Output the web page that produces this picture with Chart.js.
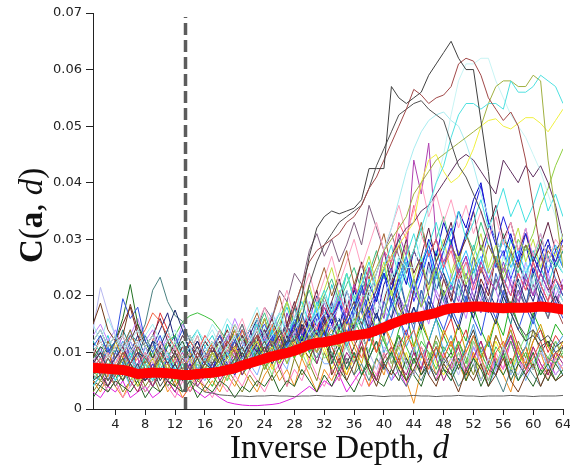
<!DOCTYPE html>
<html>
<head>
<meta charset="utf-8">
<script src="https://cdn.jsdelivr.net/npm/chart.js@4/dist/chart.umd.min.js"></script>
<style>
html,body{margin:0;padding:0;background:#fff;}
canvas{display:block;}
</style>
</head>
<body>
<canvas id="c" width="570" height="466"></canvas>
<script>
// ---- DATA (cost values in units of 0.001) ----
const depths = [1,2,3,4,5,6,7,8,9,10,11,12,13,14,15,16,17,18,19,20,21,22,23,24,25,26,27,28,29,30,31,32,33,34,35,36,37,38,39,40,41,42,43,44,45,46,47,48,49,50,51,52,53,54,55,56,57,58,59,60,61,62,63,64];
const xTickValues = [4,8,12,16,20,24,28,32,36,40,44,48,52,56,60,64];
const xTickLabels = ['4','8','12','16','20','24','28','32','36','40','44','48','52','56','60','64'];
const yTickValues = [0,0.01,0.02,0.03,0.04,0.05,0.06,0.07];
const yTickLabels = ['0','0.01','0.02','0.03','0.04','0.05','0.06','0.07'];
const cutoffDepth = 13.4;
const cutoffTop = 0.0693;

const meanCost = [7.3,7.2,7.1,7.0,6.9,6.6,6.2,6.3,6.4,6.4,6.3,6.2,6.0,6.0,6.2,6.3,
6.4,6.6,6.9,7.2,7.7,8.1,8.5,8.9,9.3,9.6,9.9,10.3,10.8,11.4,11.7,11.8,
12.1,12.4,12.8,13.0,13.2,13.4,13.9,14.4,15.0,15.5,16.0,16.2,16.4,16.7,17.0,17.5,
17.8,17.9,18.0,18.1,18.1,18.0,17.9,17.8,17.9,17.9,17.9,18.0,18.1,18.0,17.8,17.6];

const lineA = [5,6,4,7,5,8,6,5,7,4,6,8,5,7,6,8,
7,9,6,8,10,7,9,11,8,10,12,14,20,27,32,34,
35,34.5,35,35.5,37,42.5,42.5,42.5,57,55,54,55,56,59,61,63,
65,62,60,60,51,42,30,22,17,14,12,13,11,12,10,11];
const lineB = [8,6,9,7,10,8,11,9,7,10,8,6,9,7,10,8,
11,9,12,10,8,11,13,10,12,10,14,18,22,26,28,29,
30,31,33,34,36,39,41,44,47,50,53,56.5,55.5,54,55,55.5,
57,61,62,61.5,59,55,53,51,52.5,50,44,36,28,22,18,15];
const lineC = [6,8,5,7,9,6,8,5,7,9,6,8,5,7,9,6,
8,10,7,9,11,8,10,12,9,11,12,12,16,22,26,29,
31,33,34,35,36,39,43,46,49,52,53,54,54.5,53,52,51,
47,43,41,38,35,31,26,22,18,15,13,14,12,13,11,12];
const lineD = [4,6,8,5,7,9,6,8,5,7,9,6,8,5,7,9,
6,8,10,7,9,11,8,10,12,9,11,13,10,12,14,11,
13,15,12,14,16,13,15,15,18,20,25,28,32,36,40,43,
48,52,54,54,53,54,54,53,58,56,56,57,59,58,57,54];
const lineE = [7,5,8,6,9,7,5,8,6,9,7,5,8,6,9,7,
10,8,6,9,11,8,10,7,9,12,8,11,9,13,10,12,
14,11,15,15,18,22,25,28,30,32,34,38,40,42,44,45,
46,47,48,49,50,54,57,58,58,57,57,59,58,44,35,25];
const lineF = [6,8,5,7,9,6,4,7,9,6,8,5,7,9,6,8,
10,7,9,11,8,10,12,9,11,8,10,12,9,11,13,10,
12,11,13,14,16,19,22,25,27,29,31,33,40,44,45,42,
40,41,43,46,50,51,51.3,50,49.5,50.5,51.5,51.5,50.5,49,51,53];
const lineG = [10,12,9,11,13,10,12,9,11,8,10,12,9,11,8,10,
12,9,11,13,10,12,14,11,13,15,12,14,16,13,15,17,
14,16,19,15,18,21,17,20,23,27,25,25,30,35,40,45,
52,58,61,61,62,62,58,55,52,50,48,45,42,38,34,30];
const lineH = [12,14,11,13,10,12,14,11,13,10,12,14,11,13,10,12,
14,11,13,15,12,14,16,13,15,17,14,16,18,15,17,19,
16,18,21,17,20,20,24,28,32,37,42,46,49,51,52,52.5,
51,50,47,43,38,34,30,27,24,22,25,21,23,20,22,19];
const lineI = [8,10,7,9,11,8,10,7,9,11,8,10,7,9,11,8,
10,12,9,11,13,10,12,14,11,13,15,12,14,16,13,15,
17,14,16,19,15,18,21,25,27,30,32,33,35,36,38,40,
42,44,45,44,42,40,38,44,42,40,43,41,43,40,36,30];
const lineJ = [9,10,9,12,11,13,12,15,21,23.3,19,16.5,15.5,12,10,9,
8,10,7,9,8,10,9,11,8,10,9,12,10,11,9,12,
10,7,9,6,8,5,9,7,10,6,4,7,5,8,6,9,
7,4,6,9,5,8,6,3,7,5,8,6,4,7,5,6];
const lineK = [8,6,9,7,10,8,6,9,11,8,12,13,15.4,16.5,17,16.4,
15.7,14,12,10,13,11,9,12,10,14,11,9,13,10,12,15,
11,14,12,16,13,10,15,12,9,13,11,8,12,10,7,11,
9,12,8,13,10,7,11,9,12,8,10,7,11,9,8,10];
const lineL = [14,21.5,17,13,11,12,9,11,8,10,12,9,11,8,10,7,
9,11,8,10,12,9,11,13,10,12,9,14,11,13,10,15,
12,9,11,8,13,10,7,11,9,12,8,6,10,8,11,7,
9,6,10,8,5,9,7,11,8,6,9,7,10,8,6,8];
const lineM = [9,11,10,12,16,22,15,12,9,11,8,10,12,9,11,8,
10,7,9,11,8,10,12,9,11,13,10,12,9,13,11,14,
8,11,7,10,6,9,12,8,10,7,5,9,6,8,11,7,
5,8,6,9,7,4,8,6,9,5,7,10,6,8,5,7];
const lineN = [11,13,10,12,19.5,16,18,12,10,13,9,11,14,10,12,9,
11,13,10,12,14,11,13,15,12,14,11,16,13,15,12,17,
14,16,13,18,15,12,17,14,19,16,13,18,15,20,17,14,
18,15,20,16,13,19,16,21,17,14,18,15,20,17,19,16];
const lineO = [15,18.7,14,12,13,18.5,14,11,13,10,12,9,11,13,10,8,
10,12,9,11,13,10,12,9,11,14,10,13,11,9,12,14,
6,9,5,8,11,7,4,8,6,9,5,7,10,6,4,8,
6,3,7,5,8,4,6,9,5,3,6,8,4,7,5,6];
const lineP = [10,12,9,11,13,10,12,14,17,15.5,13,11,9,12,10,13,
11,9,12,10,14,11,13,10,15,12,14,11,16,13,10,15,
14,11,16,12,9,13,10,15,11,8,12,14,10,7,11,9,
12,8,10,13,9,6,10,12,8,11,7,9,12,8,10,9];
const lineQ = [8,10,7,9,11,8,10,9,12,11,14,17.5,14,10,12,9,
11,8,10,13,9,12,10,14,11,9,13,10,15,12,14,11,
13,16,12,15,18,14,17,13,16,20,15,18,14,19,16,21,
17,14,19,16,22,18,15,20,17,23,19,16,21,18,20,17];
const lineR = [6,8,5,7,6,9,7,5,8,6,9,7,5,8,6,9,
7,10,8,6,9,11,8,10,13,9,12,15,11,14,17,13,
16,19,15,18,22,17,20,24,19,23,27,21,25,29,24,28,
32,27,31,35,39.5,33,29,34,30,26,31,27,24,29,26,30];
const lineS = [7,5,8,6,9,7,5,8,6,9,7,10,8,6,9,7,
10,8,11,9,7,10,12,9,11,14,10,13,11,15,12,14,
17,13,16,19,15,18,14,17,21,16,19,23,18,21,25,20,
23,27,22,25,29,24,27,23,26,30,28,31,36,39,43,46];
const lineT = [9,7,10,8,11,9,7,10,8,12,9,11,8,10,13,9,
11,14,10,13,16,12,15,18,14,17,21,16,20,24,19,23,
27,22,26,30,25,29,33,28,32,36,31,35,40,34,38,33,
37,32,36,31,35,30,34,29,33,28,32,27,31,26,30,28];
const lineU = [5,7,9,6,8,10,7,9,6,8,10,7,9,11,8,10,
12,9,11,13,10,12,15,11,14,17,13,16,19,15,18,21,
17,20,24,19,22,26,21,25,29,23,27,31,26,29,33,28,
31,35,30,33,37,32,35,39,34,37,33,36,40,35,38,34];
const bg1 = [9,7,11,6,8,12,9,5,7,10,8,6,9,11,7,8,
10,7,12,9,11,14,10,13,9,12,15,11,14,10,16,12,
15,19,13,17,21,16,20,24,18,22,26,19,23,28,21,25,
30,24,27,22,26,31,25,28,23,27,32,26,29,24,28,25];
const bg2 = [4,6,3,5,8,4,6,3,5,7,4,6,3,5,8,6,
4,7,5,9,6,8,11,7,10,8,12,9,13,10,8,12,
9,14,11,8,13,10,15,12,9,14,17,11,15,12,16,13,
10,15,12,18,14,11,16,13,19,15,12,17,14,11,15,13];
const bg3 = [3,2,4,3,5,2,3,4,2,3,5,3,2,4,3,2,
3,2,1.2,0.9,0.7,0.6,0.6,0.7,0.8,1,1.5,2,3,4,3,5,
4,6,3,5,7,4,6,8,5,7,4,9,6,8,5,10,
7,9,6,11,8,5,9,7,12,8,6,10,7,9,6,8];
const bg4 = [12,10,13,9,11,14,10,8,12,9,11,13,10,12,14,11,
13,10,15,12,14,11,16,13,10,15,18,14,17,13,19,16,
22,18,24,20,17,23,19,25,21,27,23,20,26,22,28,24,
21,26,23,29,25,22,27,24,30,26,23,28,25,22,26,24];
const bg5 = [5,4,6,8,5,7,4,6,9,5,7,4,6,8,5,7,
9,6,8,11,7,10,13,9,12,8,11,15,10,14,12,16,
9,12,8,11,14,9,12,7,10,13,8,11,6,9,12,8,
10,7,11,14,9,12,8,10,13,9,11,7,10,12,8,11];
const bg6 = [7,9,6,8,11,7,5,8,10,6,9,7,5,8,6,9,
7,10,8,6,9,12,8,11,7,10,13,9,12,8,14,11,
7,10,6,9,12,8,5,9,11,7,10,6,9,12,8,6,
9,11,7,10,5,8,12,9,6,10,7,11,8,5,9,7];
const bg7 = [6,8,10,7,9,13,11,8,12,17,14,10,8,11,9,7,
10,8,12,9,7,11,14,10,13,9,15,12,10,14,11,17,
11,8,13,9,12,15,10,13,8,11,14,10,7,12,9,13,
16,11,14,9,12,8,13,10,15,11,8,12,14,10,13,11];
const bg8 = [10,12,9,11,8,10,13,9,11,14,17,12,9,11,8,10,
12,9,11,14,10,13,16,12,15,11,14,18,13,16,20,15,
18,14,21,17,24,19,16,22,25,20,17,23,19,26,21,24,
20,17,22,19,25,21,18,23,20,26,22,19,24,21,23,20];
const bg9 = [3,5,4,6,3,5,7,4,6,3,5,4,6,3,5,4,
6,4,7,5,3,6,4,8,5,7,4,9,6,8,5,10,
7,5,9,6,11,8,5,10,7,12,9,6,11,8,13,10,
7,12,9,6,11,8,13,10,7,12,9,14,10,8,12,9];
const bg10 = [8,11,7,10,13,9,12,8,6,9,7,10,12,8,11,9,
12,9,13,10,8,12,15,11,14,10,17,13,11,16,12,19,
15,12,18,22,17,14,20,16,23,19,15,21,18,25,20,17,
22,19,24,20,17,23,21,26,22,18,24,20,27,23,19,22];
const bg11 = [5,3,6,4,2,5,3,6,4,7,3,5,2,4,6,3,
5,3,6,4,7,5,3,6,8,5,7,4,9,6,3,7,
5,8,6,10,7,4,9,6,11,8,5,1,7,10,6,9,
12,8,5,10,7,13,9,6,3,8,11,7,10,6,9,7];
const bg12 = [11,9,12,10,14,11,9,13,10,8,11,13,9,12,10,8,
11,13,10,14,12,9,13,16,12,15,11,18,14,12,17,13,
16,20,15,18,14,21,17,13,19,23,18,15,21,17,24,19,
16,22,18,25,20,17,23,19,15,21,18,24,20,16,22,19];
const bg13 = [6,8,5,9,7,4,8,6,10,7,5,8,6,9,7,5,
8,6,9,7,11,8,6,10,13,9,7,12,9,14,10,8,
8,11,7,10,6,9,12,8,5,10,7,11,8,6,10,7,
5,9,6,11,8,4,7,10,6,9,5,8,11,7,9,6];
const bg14 = [4,6,3,5,2,4,6,3,5,7,4,2,5,3,6,4,
2,5,3,6,4,7,5,3,6,8,4,7,5,9,6,4,
7,5,9,6,4,8,6,10,7,5,9,6,11,8,5,9,
7,10,6,12,8,5,10,7,13,9,6,11,8,5,9,7];
const bg15 = [9,13,10,12,15,18,13,11,9,12,10,8,11,9,12,10,
8,11,14,10,13,9,12,16,11,14,19,15,12,17,13,20,
16,12,18,14,22,17,13,19,24,18,15,21,26,20,17,23,
19,25,21,17,23,20,27,22,18,24,21,26,22,19,25,21];
const bg16 = [7,5,8,6,9,5,7,10,6,8,5,9,7,4,8,6,
9,7,5,8,10,7,12,9,6,11,8,13,10,7,12,9,
10,7,12,8,11,6,9,13,8,11,7,10,14,9,12,8,
6,10,7,12,9,5,8,11,7,10,13,8,6,9,12,10];
const bg17 = [2,4,3,5,4,3,5,2,4,3,5,4,3,5,2,4,
3,5,4,2,4,3,5,4,6,3,5,4,7,5,3,6,
4,7,5,3,6,8,5,4,7,5,9,6,4,8,5,7,
6,9,5,8,4,7,6,10,5,8,6,4,7,5,8,6];
const bg18 = [13,15,12,14,11,13,16,12,14,10,13,11,15,12,10,13,
11,14,12,16,13,11,15,12,17,14,12,16,13,19,15,12,
17,21,16,13,19,15,22,18,14,20,17,23,19,15,21,18,
24,20,16,22,19,25,21,17,23,20,26,22,18,24,20,23];
const bg19 = [10,8,11,9,12,10,7,11,8,10,12,9,7,10,8,11,
9,12,10,8,11,13,9,12,15,11,9,13,16,12,10,14,
13,16,11,14,18,12,15,10,13,17,11,14,9,12,16,10,
13,8,11,15,10,12,7,10,14,9,11,16,12,8,11,13];
const bg20 = [6,5,7,4,6,8,5,7,4,6,5,7,3,5,4,3,
2.8,2.5,2.4,2.3,2.3,2.2,2.3,2.3,2.4,2.3,2.3,2.2,2.3,2.3,2.4,2.3,
2.3,2.2,2.3,2.3,2.3,2.4,2.3,2.2,2.3,2.3,2.3,2.4,2.3,2.3,2.2,2.3,
2.3,2.4,2.3,2.3,2.2,2.3,2.3,2.3,2.4,2.3,2.3,2.2,2.3,2.3,2.3,2.4];
const bg21 = [8,10,7,12,9,6,10,8,11,7,9,12,8,10,7,9,
12,8,10,14,9,12,8,11,15,10,13,9,16,12,10,15,
12,9,14,11,8,13,10,15,12,9,13,11,16,12,9,14,
11,15,10,13,9,12,16,11,14,10,8,12,15,11,9,12];
const bg22 = [5,7,4,6,8,5,3,6,4,7,5,3,6,8,4,6,
8,5,7,10,6,9,12,8,11,7,10,14,9,13,8,12,
9,6,10,8,12,7,5,9,11,8,6,10,7,12,9,5,
8,11,7,9,12,8,6,10,13,9,7,11,8,6,10,8];
const bg23 = [15,12,16,13,10,14,11,13,15,12,14,10,13,11,14,12,
15,13,16,14,12,15,18,14,17,13,19,16,22,18,15,20,
17,23,19,16,22,25,20,17,24,21,26,22,19,25,21,28,
24,20,26,23,29,25,21,27,24,30,26,22,28,25,27,24];
const bg24 = [7,9,6,10,8,11,7,9,12,8,10,6,9,11,8,10,
7,11,9,13,10,8,12,10,14,11,9,13,17,12,15,11,
19,14,12,17,21,15,13,19,16,24,18,14,21,17,25,20,
16,23,19,27,21,17,24,20,28,22,18,25,21,27,23,20];
const bg25 = [6,8,5,7,9,6,8,5,7,6,8,10,7,9,6,8,
10,7,9,12,8,11,9,13,10,14,11,15,12,16,13,18,
15,19,16,21,18,22,19,24,21,26,22,28,25,30,27,33,
29,35,32,37,40,33,30,27,31,26,29,24,27,30,25,28];
const bg26 = [9,7,10,8,6,9,11,8,10,7,9,12,8,10,13,9,
11,14,10,12,15,11,14,17,13,16,19,15,18,21,17,20,
23,19,22,25,21,24,28,23,26,30,25,28,32,27,30,34,
29,26,31,28,33,29,26,31,27,24,29,26,30,27,25,28];
const bg27 = [10,8,12,9,11,14,10,8,11,9,12,10,8,11,9,12,
10,13,11,15,12,14,17,13,16,20,15,18,22,17,21,25,
20,24,28,22,26,23,27,31,25,29,24,28,33,27,30,25,
29,26,31,27,24,29,26,30,28,25,29,27,24,28,26,29];
const bg28 = [5,7,6,8,5,9,7,6,8,10,7,9,6,8,10,7,
9,12,8,11,14,10,13,16,11,15,19,14,18,22,17,21,
25,20,24,19,23,27,22,26,20,24,29,23,27,21,26,30,
24,28,23,27,31,25,29,24,28,32,26,30,25,29,27,31];
const bg29 = [12,14,11,13,10,12,15,11,13,16,12,10,13,11,9,12,
10,13,11,9,12,14,11,13,16,12,15,19,14,17,21,16,
19,23,18,21,26,20,24,28,22,25,30,24,27,32,26,29,
33,27,30,35,28,32,36,30,33,28,31,26,29,33,28,30];
const bg30 = [4,6,8,5,7,10,6,8,5,7,9,6,8,11,7,9,
6,8,10,7,9,12,8,11,14,9,12,16,11,14,18,13,
16,20,15,18,22,17,20,24,19,22,26,21,24,28,23,26,
22,25,28,24,27,23,26,30,25,28,24,27,31,26,29,25];
const bg31 = [8,6,9,7,10,8,6,9,7,11,8,10,7,9,11,8,
10,13,9,12,15,11,14,18,16,21,19,24,22,28,31,27,
30,26,29,33,29,36,32,28,31,27,24,28,25,22,26,23,
20,24,21,18,22,19,23,20,17,21,18,22,19,16,20,18];
const bg32 = [7,9,6,8,10,7,9,6,8,10,7,9,6,8,7,9,
8,10,7,11,9,12,10,13,11,14,12,15,13,17,14,18,
16,20,17,22,19,25,21,28,26,33,30,36,31,27,30,25,
28,23,26,21,25,22,27,23,20,24,21,26,22,19,23,21];
const bg33 = [6,8,5,7,9,6,8,10,7,9,6,8,10,7,9,6,
8,10,7,9,11,8,10,12,9,13,10,14,11,15,12,17,
14,19,16,22,18,25,21,28,24,31,27,44,38,47,30,26,
29,24,27,22,26,23,21,25,22,19,23,20,24,21,18,22];

// ---- STYLES ----
const thinLines = [bg1,bg2,bg3,bg4,bg5,bg6,bg7,bg8,bg9,bg10,bg11,bg12,bg13,bg14,bg15,bg16,bg17,bg18,bg19,bg20,bg21,bg22,bg23,bg24,bg25,bg26,bg27,bg28,bg29,bg30,bg31,bg32,bg33,
  lineJ,lineK,lineL,lineM,lineN,lineO,lineP,lineQ,lineR,lineS,lineT,lineU,lineI,lineH,lineG,lineF,lineE,lineD,lineC,lineB,lineA];
const thinColors = ['#3030ff','#20b020','#e020e0','#20d0d0','#303030','#f0f020','#e03030','#202080','#808020','#8040c0','#f09020','#208080','#80b0ff','#ff80c0','#802020','#80e080','#206020','#c080ff','#40a0e0','#606060','#d0a000','#a02080','#a0f0f0','#4060c0','#0000c0','#40c080','#a06030','#c0e040','#602040','#30c0ff','#806080','#ff6080','#b040b0',
  '#4a8080','#40c040','#b8b8f0','#207020','#3050e0','#703818','#f06040','#182868','#2020e0','#90d040','#ffa0c0','#40e0e0','#603060','#a8ecf0','#c8f4f4','#f0f040','#a0b040','#50e0e0','#505050','#a04848','#404040'];

const toPoints = arr => depths.map((d, i) => ({x: d, y: arr[i] / 1000}));

const datasets = [
  {label: 'mean', data: toPoints(meanCost), borderColor: '#ff0000', borderWidth: 10, pointRadius: 0, borderCapStyle: 'round', borderJoinStyle: 'round', order: 0},
  {label: 'cutoff', data: [{x: cutoffDepth, y: 0}, {x: cutoffDepth, y: cutoffTop}], borderColor: '#5c5c5c', borderWidth: 3.5, borderDash: [12, 5], pointRadius: 0, order: 1}
];
thinLines.forEach((arr, i) => {
  datasets.push({label: 's' + i, data: toPoints(arr), borderColor: thinColors[i], borderWidth: 1, pointRadius: 0, order: 2 + (thinLines.length - i)});
});

const titlePlugin = {
  id: 'titles',
  afterDraw(chart) {
    const ctx = chart.ctx;
    ctx.save();
    ctx.fillStyle = '#111';
    ctx.textBaseline = 'alphabetic';
    ctx.textAlign = 'left';
    // x title
    const xParts = [['Inverse Depth, ', '33px "Liberation Serif"'], ['d', 'italic 33px "Liberation Serif"']];
    let x = 230;
    xParts.forEach(([t, f]) => { ctx.font = f; ctx.fillText(t, x, 458); x += ctx.measureText(t).width; });
    // y title
    ctx.translate(42, 263);
    ctx.rotate(-Math.PI / 2);
    const yParts = [['C', 'bold 33px "Liberation Serif"'], ['(', '33px "Liberation Serif"'], ['a', 'bold 33px "Liberation Serif"'], [', ', '33px "Liberation Serif"'], ['d', 'italic 33px "Liberation Serif"'], [')', '33px "Liberation Serif"']];
    let p = 0;
    yParts.forEach(([t, f]) => { ctx.font = f; ctx.fillText(t, p, 0); p += ctx.measureText(t).width; });
    ctx.restore();
  }
};

new Chart(document.getElementById('c'), {
  type: 'line',
  data: {datasets},
  plugins: [titlePlugin],
  options: {
    responsive: false,
    devicePixelRatio: 1,
    animation: false,
    events: [],
    layout: {padding: {top: 13, right: 7, left: 0, bottom: 0}},
    plugins: {legend: {display: false}, tooltip: {enabled: false}},
    elements: {line: {tension: 0}},
    scales: {
      x: {
        type: 'linear', min: 1, max: 64,
        afterBuildTicks: s => { s.ticks = xTickValues.map(v => ({value: v})); },
        afterFit: s => { s.height = 57; s.paddingLeft = 0; s.paddingRight = 0; },
        ticks: {callback: (v, i) => xTickLabels[i], font: {family: 'DejaVu Sans', size: 13}, color: '#222', padding: 2, maxRotation: 0, autoSkip: false},
        grid: {drawOnChartArea: false, drawTicks: true, tickLength: 6, color: '#222'},
        border: {display: true, color: '#222', width: 1}
      },
      y: {
        type: 'linear', min: 0, max: 0.07,
        afterBuildTicks: s => { s.ticks = yTickValues.map(v => ({value: v})); },
        afterFit: s => { s.width = 93; },
        ticks: {callback: (v, i) => yTickLabels[i], font: {family: 'DejaVu Sans', size: 13}, color: '#222', padding: 4, autoSkip: false},
        grid: {drawOnChartArea: false, drawTicks: true, tickLength: 7, color: '#222'},
        border: {display: true, color: '#222', width: 1}
      }
    }
  }
});
</script>
</body>
</html>
